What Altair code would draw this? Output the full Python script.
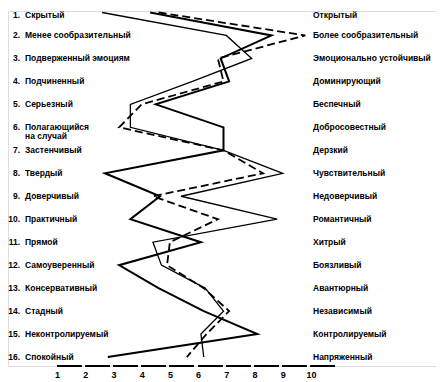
import altair as alt
import pandas as pd

rows = list(range(1, 17))
numbers = [f"{i}." for i in rows]
left_names = ["Скрытый", "Менее сообразительный", "Подверженный  эмоциям", "Подчиненный",
              "Серьезный", "Полагающийся\nна случай", "Застенчивый", "Твердый", "Доверчивый",
              "Практичный", "Прямой", "Самоуверенный", "Консервативный", "Стадный",
              "Неконтролируемый", "Спокойный"]
right_names = ["Открытый", "Более сообразительный", "Эмоционально  устойчивый", "Доминирующий",
               "Беспечный", "Добросовестный", "Дерзкий", "Чувствительный", "Недоверчивый",
               "Романтичный", "Хитрый", "Боязливый", "Авантюрный", "Независимый",
               "Контролируемый", "Напряженный"]

profile_thin = [2.6, 7.0, 7.9, 5.8, 3.6, 3.6, 6.9, 9.0, 5.4, 8.8, 4.4, 4.7, 6.25, 6.9, 6.1, 6.2]
profile_thick = [4.3, 8.6, 6.8, 7.1, 4.5, 6.9, 6.9, 2.7, 4.65, 3.6, 6.1, 3.2, 4.6, 6.2, 8.1, 2.8]
profile_dashed = [4.6, 9.8, 6.7, 6.9, 4.0, 3.2, 6.9, 8.3, 4.4, 6.7, 5.0, 4.9, 6.2, 7.1, 6.3, 5.6]
tick_values = list(range(1, 11))

FONT = "Liberation Sans"
W, H = 428, 355

x_scale = alt.Scale(domain=[-0.736, 14.43], nice=False, zero=False)
y_scale = alt.Scale(domain=[16.39, 0.9347], nice=False, zero=False)
x_axis = alt.Axis(values=tick_values, domain=False, ticks=False, grid=False, title=None,
                  format="d", labelFont=FONT, labelFontWeight="bold", labelFontSize=9,
                  labelColor="black", labelPadding=4)

df = pd.DataFrame({"row": rows, "num": numbers, "left": left_names, "right": right_names,
                   "thin": profile_thin, "thick": profile_thick, "dashed": profile_dashed})
base = alt.Chart(df)

y_enc = alt.Y("row:Q", scale=y_scale, axis=None)

thick = base.mark_line(color="black", strokeWidth=2.0, strokeJoin="miter").encode(
    x=alt.X("thick:Q", scale=x_scale, axis=x_axis), y=y_enc, order="row:Q")
thin = base.mark_line(color="black", strokeWidth=1.3, strokeJoin="miter").encode(
    x=alt.X("thin:Q", scale=x_scale, axis=x_axis), y=y_enc, order="row:Q")
dashed = base.mark_line(color="black", strokeWidth=1.8, strokeDash=[8, 4], strokeJoin="miter").encode(
    x=alt.X("dashed:Q", scale=x_scale, axis=x_axis), y=y_enc, order="row:Q")

axis_line = base.mark_rule(color="black", strokeWidth=1.4, strokeDash=[24.2, 4]).encode(
    x=alt.X(datum=1.0, scale=x_scale, axis=x_axis), x2=alt.X2(datum=10.85), y=alt.value(H))

txt = dict(font=FONT, fontWeight="bold", fontSize=8.5, color="black", baseline="middle")


def labels(dy, cond):
    b = base.transform_filter(cond)
    n = b.mark_text(align="right", dy=dy, **txt).encode(
        x=alt.value(12), y=y_enc, text="num:N")
    l = b.mark_text(align="left", lineBreak="\n", lineHeight=9, dy=dy, **txt).encode(
        x=alt.value(17), y=y_enc, text="left:N")
    r = b.mark_text(align="left", dy=dy, **txt).encode(
        x=alt.value(305), y=y_enc, text="right:N")
    return [n, l, r]


first = labels(3, alt.datum.row == 1)
others = labels(0, alt.datum.row > 1)

chart = alt.layer(thick, thin, dashed, axis_line, *first, *others).properties(
    width=W, height=H, padding={"left": 0, "top": 0, "right": 0, "bottom": 0}
).configure_view(stroke=None).configure(background="white")

chart.save("out.html", embed_options={"renderer": "svg", "actions": False})
